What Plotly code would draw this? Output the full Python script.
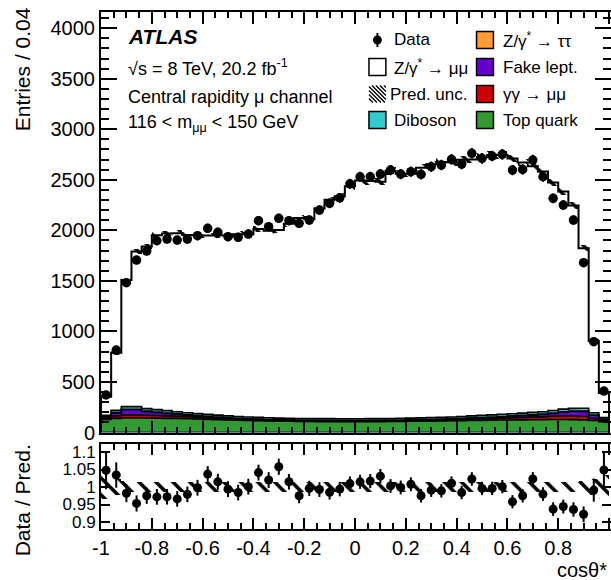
import numpy as np
import plotly.graph_objects as go

# 50 bins of width 0.04 in cos(theta*)
bin_edges = np.round(np.linspace(-1.0, 1.0, 51), 3)
bin_centers = 0.5 * (bin_edges[:-1] + bin_edges[1:])

data = np.array([
    371, 816, 1482, 1706, 1795, 1897, 1914, 1904, 1914, 1947,
    2020, 1980, 1937, 1931, 1963, 2095, 2036, 2119, 2095, 2069,
    2102, 2201, 2267, 2322, 2460, 2530, 2530, 2557, 2596, 2557,
    2580, 2554, 2629, 2646, 2702, 2656, 2762, 2712, 2735, 2752,
    2596, 2603, 2695, 2530, 2317, 2250, 2102, 1680, 898, 410], dtype=float)

zmumu = np.array([
    184, 570, 1253, 1534, 1605, 1726, 1753, 1765, 1759, 1764,
    1769, 1779, 1785, 1803, 1808, 1862, 1850, 1861, 1923, 1983,
    1972, 2080, 2165, 2200, 2300, 2357, 2351, 2343, 2450, 2419,
    2418, 2474, 2505, 2524, 2519, 2540, 2536, 2554, 2572, 2569,
    2525, 2478, 2435, 2376, 2256, 2152, 2007, 1582, 711, 243], dtype=float)

top_quark = np.array([
    128, 140, 144, 144, 143, 142, 140, 138, 136, 133,
    130, 127, 124, 121, 118, 116, 114, 112, 111, 110,
    109, 108, 108, 107, 107, 107, 108, 108, 109, 110,
    111, 112, 113, 114, 116, 117, 119, 120, 122, 123,
    124, 125, 126, 127, 128, 128, 127, 125, 118, 108], dtype=float)

gamgam = np.array([
    12, 24, 30, 30, 28, 26, 24, 22, 19, 17,
    15, 13, 11, 10, 9, 8, 7, 6, 6, 5,
    5, 5, 5, 5, 5, 5, 5, 5, 5, 6,
    6, 7, 8, 9, 10, 12, 13, 15, 17, 19,
    21, 24, 26, 28, 33, 35, 36, 34, 22, 12], dtype=float)

fake = np.array([
    14, 30, 52, 52, 36, 30, 25, 20, 16, 13,
    11, 9, 8, 7, 6, 6, 5, 5, 5, 5,
    5, 5, 5, 5, 5, 5, 5, 5, 5, 5,
    5, 6, 6, 7, 7, 8, 9, 10, 11, 13,
    15, 17, 20, 23, 27, 38, 45, 50, 30, 12], dtype=float)

ztautau = np.array([
    2, 3, 4, 4, 4, 4, 4, 4, 4, 4,
    4, 4, 3, 3, 3, 3, 3, 3, 3, 3,
    3, 3, 3, 3, 3, 3, 3, 3, 3, 3,
    3, 3, 3, 3, 3, 3, 4, 4, 4, 4,
    4, 4, 4, 4, 4, 4, 4, 4, 3, 2], dtype=float)

diboson = np.array([
    14, 22, 26, 26, 25, 24, 23, 22, 21, 20,
    19, 19, 18, 18, 17, 17, 17, 16, 16, 16,
    16, 16, 16, 16, 16, 16, 16, 16, 16, 17,
    17, 17, 18, 18, 18, 19, 19, 20, 20, 21,
    21, 22, 23, 24, 25, 26, 27, 27, 22, 14], dtype=float)

# relative uncertainty on the total prediction
pred_unc = np.array([
    0.035, 0.022, 0.017, 0.015, 0.014, 0.014, 0.014, 0.014, 0.014, 0.014,
    0.014, 0.014, 0.014, 0.014, 0.014, 0.014, 0.014, 0.014, 0.014, 0.014,
    0.014, 0.014, 0.014, 0.014, 0.014, 0.014, 0.014, 0.014, 0.014, 0.014,
    0.014, 0.014, 0.014, 0.014, 0.014, 0.014, 0.014, 0.014, 0.014, 0.014,
    0.014, 0.014, 0.014, 0.014, 0.014, 0.014, 0.015, 0.017, 0.022, 0.035])

x_ticks = [-1, -0.8, -0.6, -0.4, -0.2, 0, 0.2, 0.4, 0.6, 0.8, 1]
x_ticktext = ["-1", "-0.8", "-0.6", "-0.4", "-0.2", "0", "0.2", "0.4", "0.6", "0.8", "1"]
r_ticks = [0.9, 0.95, 1.0, 1.05, 1.1]
r_ticktext = ["0.9", "0.95", "1", "1.05", "1.1"]

# stacking order, bottom to top
backgrounds = [
    ("Top quark", top_quark, "#339933"),
    ("γγ → μμ", gamgam, "#cc0000"),
    ("Fake lept.", fake, "#6600cc"),
    ("Z/γ* → ττ", ztautau, "#ff9933"),
    ("Diboson", diboson, "#33cccc"),
]

total = zmumu.copy()
for _, arr, _ in backgrounds:
    total = total + arr
ratio = data / total
ratio_err = np.sqrt(data) / total

FONT = "Liberation Sans, Arial, Helvetica, sans-serif"
# the canvas is 2 px wider than the page so the right-hand frame line falls
# just outside the visible area, with x = 1 landing on the last visible column
W, H = 613, 580
L, R, T, B = 101, 0, 12, 51
PW, PH = W - L - R, H - T - B
X_MAX = -1 + 2.0 * PW / 510.0
MAIN_BOTTOM_PX = 432.5
RATIO_TOP_PX = 444


def px(x):
    return (x - L) / PW


def py(y):
    return (H - B - y) / PH


def stairs(vals):
    return bin_edges, np.append(vals, vals[-1])


fig = go.Figure()

# stacked backgrounds
cum = np.zeros(len(bin_centers))
for i, (name, arr, col) in enumerate(backgrounds):
    cum = cum + arr
    xs, ys = stairs(cum)
    fig.add_trace(go.Scatter(
        x=xs, y=ys, mode="lines", line=dict(shape="hv", color="black", width=1.6),
        fill="tozeroy" if i == 0 else "tonexty", fillcolor=col,
        hoverinfo="skip", showlegend=False, xaxis="x", yaxis="y"))

# Z/gamma* -> mumu on top: outline of the full prediction
xs = np.concatenate([[bin_edges[0]], bin_edges, [bin_edges[-1]]])
ys = np.concatenate([[0], total, [total[-1]], [0]])
fig.add_trace(go.Scatter(
    x=xs, y=ys, mode="lines", line=dict(shape="hv", color="black", width=2),
    hoverinfo="skip", showlegend=False, xaxis="x", yaxis="y"))

hatch = dict(shape="\\", fgcolor="black", fgopacity=1, bgcolor="rgba(0,0,0,0)",
             size=11, solidity=0.3)

# prediction uncertainty band, main panel
fig.add_trace(go.Bar(
    x=bin_centers, y=2 * pred_unc * total, base=total * (1 - pred_unc), width=0.04,
    marker=dict(color="rgba(0,0,0,0)", line=dict(width=0), pattern=hatch),
    hoverinfo="skip", showlegend=False, xaxis="x", yaxis="y"))

# data
fig.add_trace(go.Scatter(
    x=bin_centers, y=data, mode="markers",
    marker=dict(color="black", size=9.5),
    error_y=dict(type="data", array=np.sqrt(data), thickness=2, width=0, color="black"),
    showlegend=False, xaxis="x", yaxis="y"))

# ratio panel
fig.add_trace(go.Bar(
    x=bin_centers, y=2 * pred_unc, base=1 - pred_unc, width=0.04,
    marker=dict(color="rgba(0,0,0,0)", line=dict(width=0),
                pattern=dict(hatch, size=12, solidity=0.3)),
    hoverinfo="skip", showlegend=False, xaxis="x2", yaxis="y2"))
fig.add_trace(go.Scatter(
    x=bin_centers, y=ratio, mode="markers",
    marker=dict(color="black", size=9),
    error_y=dict(type="data", array=ratio_err, thickness=2, width=0, color="black"),
    showlegend=False, xaxis="x2", yaxis="y2"))

axis_common = dict(showline=True, linecolor="black", linewidth=2, mirror="allticks",
                   ticks="inside", tickcolor="black", tickwidth=1.5,
                   showgrid=False, zeroline=False,
                   tickfont=dict(family=FONT, size=20, color="black"))

main_bottom = py(MAIN_BOTTOM_PX)
ratio_top = py(RATIO_TOP_PX)

fig.update_layout(
    width=W, height=H,
    margin=dict(l=L, r=R, t=T, b=B, pad=0),
    paper_bgcolor="white", plot_bgcolor="white",
    barmode="overlay", bargap=0,
    font=dict(family=FONT, color="black"),
    xaxis=dict(axis_common, domain=[0, 1], range=[-1, X_MAX], anchor="y",
               tickvals=x_ticks, showticklabels=False, ticklen=12,
               minor=dict(dtick=0.05, tick0=-1, ticklen=6, ticks="inside",
                          tickcolor="black", tickwidth=1.5)),
    yaxis=dict(axis_common, domain=[main_bottom, 1], range=[0, 4160], anchor="x",
               dtick=500, tick0=0, ticklen=16,
               minor=dict(dtick=100, ticklen=8, ticks="inside",
                          tickcolor="black", tickwidth=1.5)),
    xaxis2=dict(axis_common, domain=[0, 1], range=[-1, X_MAX], anchor="y2",
                tickvals=x_ticks, ticktext=x_ticktext, ticklen=11,
                minor=dict(dtick=0.05, tick0=-1, ticklen=6, ticks="inside",
                           tickcolor="black", tickwidth=1.5)),
    yaxis2=dict(axis_common, domain=[0, ratio_top], range=[0.88, 1.123], anchor="x2",
                tickvals=r_ticks, ticktext=r_ticktext, ticklen=9,
                tickfont=dict(family=FONT, size=17, color="black")),
)

shapes = []
annotations = []

# dark baseline of the main panel
shapes.append(dict(type="line", xref="x", yref="y", x0=-1, x1=1, y0=0, y1=0,
                   line=dict(color="#14205e", width=2), layer="above"))


def text(x, y, s, size, xanchor="left", yanchor="middle", angle=0):
    annotations.append(dict(x=px(x), y=py(y), xref="paper", yref="paper", text=s,
                            showarrow=False, xanchor=xanchor, yanchor=yanchor,
                            textangle=angle,
                            font=dict(family=FONT, size=size, color="black")))


# axis titles
text(22, 5, "Entries / 0.04", 21, xanchor="center", yanchor="top", angle=-90)
text(22, 500, "Data / Pred.", 21, xanchor="center", yanchor="middle", angle=-90)
text(611, 570, "cosθ*", 20, xanchor="right", yanchor="middle")

# labels
text(126, 37, "<b><i>ATLAS</i></b>", 21)
text(126, 68, "√s = 8 TeV, 20.2 fb<sup>-1</sup>", 18)
text(126, 97, "Central rapidity μ channel", 18)
text(126, 124, "116 < m<sub>μμ</sub> < 150 GeV", 18)

# legend
rows = [40, 67, 94, 120]
c1_box, c2_box = 370, 478
box = 17
c1_txt, c2_txt = 393, 503
LEG = 17


def legend_box(x0, yc, color):
    shapes.append(dict(type="rect", xref="paper", yref="paper",
                       x0=px(x0), x1=px(x0 + box), y0=py(yc + box / 2), y1=py(yc - box / 2),
                       fillcolor=color, line=dict(color="black", width=1.5)))


# Data marker
shapes.append(dict(type="line", xref="paper", yref="paper", x0=px(378.5), x1=px(378.5),
                   y0=py(rows[0] - 7), y1=py(rows[0] + 7), line=dict(color="black", width=2)))
shapes.append(dict(type="circle", xref="paper", yref="paper", x0=px(374), x1=px(383),
                   y0=py(rows[0] + 4.5), y1=py(rows[0] - 4.5), fillcolor="black",
                   line=dict(color="black", width=0)))
text(c1_txt, rows[0], "Data", LEG)

legend_box(c1_box, rows[1], "white")
text(c1_txt, rows[1], "Z/γ<sup>*</sup> → μμ", LEG)

# hatched symbol for the prediction uncertainty
hx0, hy0 = c1_box, rows[2] - box / 2
for c in range(-box, box, 4):
    t0 = max(0, c)
    t1 = min(box, box + c)
    if t1 - t0 < 1:
        continue
    shapes.append(dict(type="line", xref="paper", yref="paper",
                       x0=px(hx0 + t0), y0=py(hy0 + t0 - c),
                       x1=px(hx0 + t1), y1=py(hy0 + t1 - c),
                       line=dict(color="black", width=1.3)))
text(c1_txt - 4, rows[2], "Pred. unc.", LEG)

legend_box(c1_box, rows[3], "#33cccc")
text(c1_txt, rows[3], "Diboson", LEG)

legend_box(c2_box, rows[0], "#ff9933")
text(c2_txt, rows[0], "Z/γ<sup>*</sup> → ττ", LEG)
legend_box(c2_box, rows[1], "#6600cc")
text(c2_txt, rows[1], "Fake lept.", LEG)
legend_box(c2_box, rows[2], "#cc0000")
text(c2_txt, rows[2], "γγ → μμ", LEG)
legend_box(c2_box, rows[3], "#339933")
text(c2_txt, rows[3], "Top quark", LEG)

fig.update_layout(shapes=shapes, annotations=annotations)

# keep the page from scrolling horizontally
page_css = ("document.documentElement.style.overflow='hidden';"
            "document.body.style.overflow='hidden';"
            "document.body.style.margin='0';")
fig.write_html("out.html", config={"displayModeBar": False}, post_script=page_css)
